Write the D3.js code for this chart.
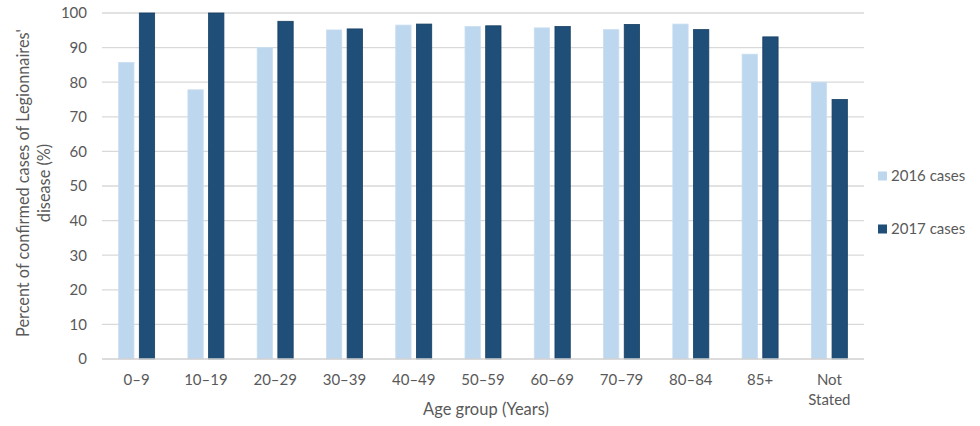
<!DOCTYPE html>
<html>
<head>
<meta charset="utf-8">
<script src="https://cdn.jsdelivr.net/npm/d3@7"></script>
<style>
  body { margin: 0; background: #fff; }
  text { font-family: Lato, "Open Sans", sans-serif; fill: #595959; }
</style>
</head>
<body>
<svg id="chart" width="980" height="426"></svg>
<script>
const ageGroups = ["0–9", "10–19", "20–29", "30–39", "40–49", "50–59", "60–69", "70–79", "80–84", "85+", "Not Stated"];
const seriesNames = ["2016 cases", "2017 cases"];
const cases2016 = [85.7, 77.8, 90.0, 95.1, 96.5, 96.1, 95.7, 95.2, 96.8, 88.1, 80.0];
const cases2017 = [100, 100, 97.6, 95.4, 96.8, 96.3, 96.1, 96.7, 95.2, 93.1, 75.0];
const yTicks = [0, 10, 20, 30, 40, 50, 60, 70, 80, 90, 100];
const colors = ["#bdd7ee", "#1f4e79"];
const strokes = ["#c9def1", "#173f63"];

const data = ageGroups.map((g, i) => ({ group: g, values: [cases2016[i], cases2017[i]] }));

const svg = d3.select("#chart");
const plotLeft = 102, plotRight = 864, plotTop = 13, plotBottom = 359;

const x0 = d3.scaleBand().domain(ageGroups).range([plotLeft, plotRight]).padding(0);
const x1 = d3.scaleBand().domain(seriesNames).range([-18, 18]).paddingInner(0.26);
const y = d3.scaleLinear().domain([0, 100]).range([plotBottom, plotTop]);

// gridlines
svg.append("g")
    .selectAll("line")
    .data(yTicks.filter(t => t > 0))
    .enter()
    .append("line")
    .attr("x1", plotLeft).attr("x2", plotRight)
    .attr("y1", d => y(d)).attr("y2", d => y(d))
    .attr("stroke", "#d9d9d9")
    .attr("stroke-width", 1.3);

// y axis labels
const yAxis = svg.append("g")
    .attr("transform", `translate(${plotLeft}, 0)`)
    .call(d3.axisLeft(y).tickValues(yTicks).tickSize(0).tickPadding(15));
yAxis.select(".domain").remove();
yAxis.selectAll("text").style("font-size", "15px").attr("fill", "#595959");

// bars
const groups = svg.append("g")
    .selectAll("g")
    .data(data)
    .enter()
    .append("g")
    .attr("transform", d => `translate(${x0(d.group) + x0.bandwidth() / 2}, 0)`);

groups.selectAll("rect")
    .data(d => d.values.map((v, i) => ({ key: seriesNames[i], value: v, i })))
    .enter()
    .append("rect")
    .attr("x", d => x1(d.key))
    .attr("width", x1.bandwidth())
    .attr("y", d => y(d.value))
    .attr("height", d => y(0) - y(d.value))
    .attr("fill", d => colors[d.i])
    .attr("stroke", d => strokes[d.i])
    .attr("stroke-width", 0.8);

// baseline
svg.append("line")
    .attr("x1", plotLeft).attr("x2", plotRight)
    .attr("y1", y(0)).attr("y2", y(0))
    .attr("stroke", "#d0d0d0")
    .attr("stroke-width", 1.3);

// x axis labels
const xAxis = svg.append("g")
    .attr("transform", `translate(0, ${plotBottom})`)
    .call(d3.axisBottom(x0).tickSize(0).tickPadding(0));
xAxis.select(".domain").remove();
xAxis.selectAll(".tick text")
    .style("font-size", "15px")
    .attr("fill", "#595959")
    .attr("dy", null)
    .attr("y", 26)
    .each(function (d) {
        const words = d.split(" ");
        if (words.length > 1) {
            const t = d3.select(this).text(null);
            words.forEach((w, i) => {
                t.append("tspan").attr("x", 0).attr("y", 26 + i * 20).text(w);
            });
        }
    });

// axis titles
svg.append("text")
    .attr("x", 486)
    .attr("y", 415)
    .attr("text-anchor", "middle")
    .style("font-size", "16.5px")
    .text("Age group (Years)");

const yTitle = svg.append("text")
    .attr("transform", "translate(0, 183) rotate(-90)")
    .attr("text-anchor", "middle")
    .style("font-size", "16.3px");
yTitle.append("tspan").attr("x", 0).attr("y", 29).text("Percent of confirmed cases of Legionnaires'");
yTitle.append("tspan").attr("x", 0).attr("y", 50).text("disease (%)");

// legend
const legend = svg.append("g")
    .selectAll("g")
    .data(seriesNames)
    .enter()
    .append("g")
    .attr("transform", (d, i) => `translate(878, ${176 + i * 53})`);
legend.append("rect")
    .attr("x", 0).attr("y", -4.5)
    .attr("width", 9).attr("height", 9)
    .attr("fill", (d, i) => colors[i]);
legend.append("text")
    .attr("x", 13)
    .attr("y", 5)
    .style("font-size", "15px")
    .text(d => d);
</script>
</body>
</html>
